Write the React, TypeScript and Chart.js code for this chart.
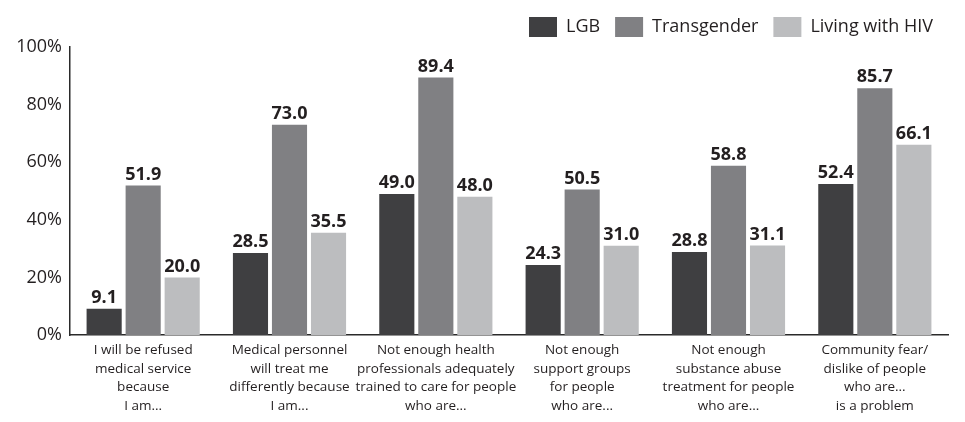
import React, { useEffect, useRef } from "react";
import { Chart, registerables } from "chart.js";

Chart.register(...registerables);

const categories: string[][] = [
  ["I will be refused", "medical service", "because", "I am..."],
  ["Medical personnel", "will treat me", "differently because", "I am..."],
  ["Not enough health", "professionals adequately", "trained to care for people", "who are..."],
  ["Not enough", "support groups", "for people", "who are..."],
  ["Not enough", "substance abuse", "treatment for people", "who are..."],
  ["Community fear/", "dislike of people", "who are...", "is a problem"],
];
const seriesNames = ["LGB", "Transgender", "Living with HIV"];
const lgb = [9.1, 28.5, 49.0, 24.3, 28.8, 52.4];
const transgender = [51.9, 73.0, 89.4, 50.5, 58.8, 85.7];
const hiv = [20.0, 35.5, 48.0, 31.0, 31.1, 66.1];
const yTicks = [0, 20, 40, 60, 80, 100];
const colors = ["#3f3f41", "#808083", "#bcbdbf"];

const FONT = "'Open Sans', 'Noto Sans', sans-serif";

const valueLabels = {
  id: "valueLabels",
  afterDatasetsDraw(chart: any) {
    const ctx = chart.ctx;
    ctx.save();
    ctx.font = `bold 18px ${FONT}`;
    ctx.fillStyle = "#231f20";
    ctx.textAlign = "center";
    ctx.textBaseline = "bottom";
    chart.data.datasets.forEach((ds: any, i: number) => {
      const meta = chart.getDatasetMeta(i);
      meta.data.forEach((bar: any, j: number) => {
        ctx.fillText(Number(ds.data[j]).toFixed(1), bar.x, bar.y - 2);
      });
    });
    ctx.restore();
  },
};

export default function App() {
  const ref = useRef<HTMLCanvasElement | null>(null);
  useEffect(() => {
    document.body.style.margin = "0";
    const data = [lgb, transgender, hiv];
    const chart = new Chart(ref.current!, {
      type: "bar",
      data: {
        labels: categories,
        datasets: seriesNames.map((name, i) => ({
          label: name,
          data: data[i],
          backgroundColor: colors[i],
          borderWidth: 0,
          categoryPercentage: 0.8,
          barPercentage: 0.9,
        })),
      },
      options: {
        animation: false,
        responsive: false,
        maintainAspectRatio: false,
        layout: { padding: { left: 0, right: 17, top: 2, bottom: 0 } },
        plugins: {
          legend: {
            position: "top",
            align: "end",
            labels: {
              boxWidth: 28,
              boxHeight: 20,
              padding: 15,
              color: "#231f20",
              font: { family: FONT, size: 18 },
            },
          },
          tooltip: { enabled: false },
        },
        scales: {
          x: {
            afterFit: (axis: any) => {
              axis.height = 87;
            },
            grid: { display: false, drawTicks: false },
            border: { display: true, color: "#2a2a2a", width: 1.5 },
            ticks: {
              color: "#231f20",
              font: { family: FONT, size: 13.5, lineHeight: 1.37 },
              maxRotation: 0,
              autoSkip: false,
              padding: 6,
            },
          },
          y: {
            min: 0,
            max: 100,
            afterFit: (axis: any) => {
              axis.width = 70;
            },
            afterBuildTicks: (axis: any) => {
              axis.ticks = yTicks.map((v) => ({ value: v }));
            },
            grid: { display: false, drawTicks: false },
            border: { display: true, color: "#2a2a2a", width: 1.5 },
            ticks: {
              color: "#231f20",
              font: { family: FONT, size: 18 },
              padding: 8,
              callback: (v: any) => `${v}%`,
            },
          },
        },
      },
      plugins: [valueLabels],
    });
    return () => chart.destroy();
  }, []);
  return (
    <div style={{ width: 965, height: 422 }}>
      <canvas ref={ref} width={965} height={422} />
    </div>
  );
}
